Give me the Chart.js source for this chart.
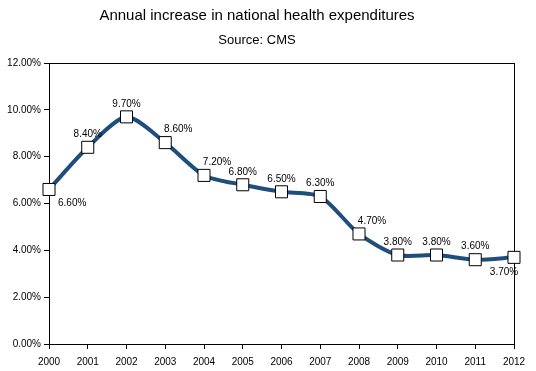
<!DOCTYPE html>
<html>
<head>
<meta charset="utf-8">
<script src="https://cdn.jsdelivr.net/npm/chart.js@4"></script>
<style>
html,body{margin:0;padding:0;background:#fff;}
#wrap{width:536px;height:371px;position:relative;}
</style>
</head>
<body>
<div id="wrap"><canvas id="c" width="536" height="371"></canvas></div>
<script>
const years = ['2000','2001','2002','2003','2004','2005','2006','2007','2008','2009','2010','2011','2012'];
const increase = [6.6, 8.4, 9.7, 8.6, 7.2, 6.8, 6.5, 6.3, 4.7, 3.8, 3.8, 3.6, 3.7];
const yTicks = [0, 2, 4, 6, 8, 10, 12];

// label placement: 'a' above centered, 'ar' above shifted right, 'br' below right, 'bl' below left
const labelPlace = ['br','a','a','ar','ar','a','a','a','ar','a','a','a','bl'];

const labelPlugin = {
  id: 'pointLabels',
  afterDatasetsDraw(chart) {
    const ctx = chart.ctx;
    const meta = chart.getDatasetMeta(0);
    ctx.save();
    ctx.font = '10px "Liberation Sans", Arial, sans-serif';
    ctx.fillStyle = '#000';
    ctx.textBaseline = 'middle';
    meta.data.forEach((pt, i) => {
      const txt = increase[i].toFixed(2) + '%';
      const p = labelPlace[i];
      let x = pt.x, y = pt.y;
      ctx.textAlign = 'center';
      if (p === 'a') { y -= 13; }
      else if (p === 'ar') { y -= 13; x += 13; }
      else if (p === 'br') { y += 14; ctx.textAlign = 'left'; x += 9; }
      else if (p === 'bl') { y += 15; x -= 10; }
      ctx.fillText(txt, x, y);
    });
    ctx.restore();
  }
};

const borderPlugin = {
  id: 'areaBorder',
  beforeDatasetsDraw(chart) {
    const a = chart.chartArea, ctx = chart.ctx;
    ctx.save();
    ctx.strokeStyle = '#000';
    ctx.lineWidth = 1;
    ctx.strokeRect(Math.round(a.left) + 0.5, Math.round(a.top) + 0.5, Math.round(a.right - a.left), Math.round(a.bottom - a.top));
    ctx.restore();
  }
};

const font = { family: '"Liberation Sans", Arial, sans-serif', size: 10 };

new Chart(document.getElementById('c'), {
  type: 'line',
  data: {
    labels: years,
    datasets: [{
      data: increase,
      borderColor: '#1f4e7c',
      borderWidth: 4,
      tension: 0.25,
      pointStyle: 'rect',
      pointRadius: 8.5,
      pointBackgroundColor: '#fff',
      pointBorderColor: '#000',
      pointBorderWidth: 1,
      clip: false
    }]
  },
  options: {
    responsive: false,
    animation: false,
    events: [],
    layout: { padding: { left: 0, right: 22, top: 0, bottom: 0 } },
    plugins: {
      legend: { display: false },
      tooltip: { enabled: false },
      title: {
        display: true,
        text: 'Annual increase in national health expenditures',
        color: '#000',
        font: { family: '"Liberation Sans", Arial, sans-serif', size: 15, weight: 'normal' },
        padding: { top: 7, bottom: 6 }
      },
      subtitle: {
        display: true,
        text: 'Source: CMS',
        color: '#000',
        font: { family: '"Liberation Sans", Arial, sans-serif', size: 13, weight: 'normal' },
        padding: { top: 2, bottom: 14.4 }
      }
    },
    scales: {
      x: {
        offset: false,
        grid: { display: true, drawOnChartArea: false, drawTicks: true, tickLength: 5, color: '#000' },
        border: { display: true, color: '#000', width: 1 },
        ticks: { color: '#000', font: font, padding: 7, maxRotation: 0, autoSkip: false },
        afterFit(s) { s.height = 27; }
      },
      y: {
        min: 0, max: 12,
        afterBuildTicks(s) { s.ticks = yTicks.map(v => ({ value: v })); },
        grid: { display: true, drawOnChartArea: false, drawTicks: true, tickLength: 5, color: '#000' },
        border: { display: true, color: '#000', width: 1 },
        ticks: { color: '#000', font: font, padding: 3, callback: v => v.toFixed(2) + '%' },
        afterFit(s) { s.width = 49; }
      }
    }
  },
  plugins: [borderPlugin, labelPlugin]
});
</script>
</body>
</html>
